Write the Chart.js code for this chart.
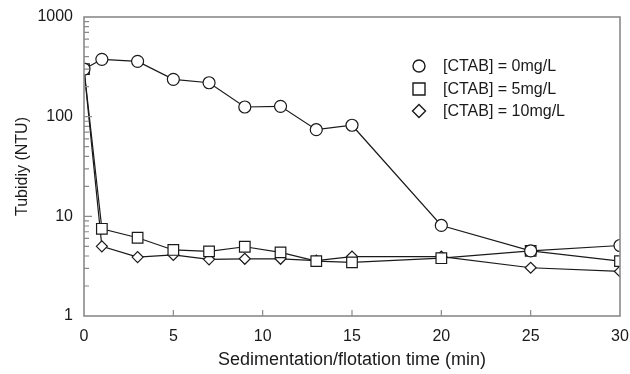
<!DOCTYPE html>
<html>
<head>
<meta charset="utf-8">
<script src="https://cdn.jsdelivr.net/npm/chart.js@4/dist/chart.umd.min.js"></script>
<style>
  html, body { margin: 0; padding: 0; background: #fff; }
  #wrap { width: 630px; height: 374px; }
</style>
</head>
<body>
<div id="wrap"><canvas id="turb" width="630" height="374"></canvas></div>
<script>
const times = [0, 1, 3, 5, 7, 9, 11, 13, 15, 20, 25, 30];
const ctab0 = [300, 376, 359, 237, 219, 125, 127, 74, 82, 8.1, 4.5, 5.1];
const ctab5 = [300, 7.5, 6.1, 4.6, 4.45, 4.95, 4.35, 3.55, 3.45, 3.8, 4.5, 3.55];
const ctab10 = [300, 5.0, 3.9, 4.1, 3.7, 3.75, 3.75, 3.6, 3.95, 3.95, 3.05, 2.8];
const seriesNames = ['[CTAB] = 0mg/L', '[CTAB] = 5mg/L', '[CTAB] = 10mg/L'];
const yMajor = [1, 10, 100, 1000];
const xTicks = [0, 5, 10, 15, 20, 25, 30];

const FONT = '"Liberation Sans", Arial, Helvetica, sans-serif';
const FRAME = '#8a8a8a';
const INK = '#1a1a1a';

function pts(ys) {
  return times.map((t, i) => ({ x: t, y: ys[i] }));
}

function series(label, ys, style, radius) {
  return {
    label,
    data: pts(ys),
    borderColor: INK,
    borderWidth: 1.2,
    pointStyle: style,
    pointRadius: radius,
    pointBorderWidth: 1.2,
    pointBorderColor: INK,
    pointBackgroundColor: '#fff',
    tension: 0
  };
}

// frame, inward tick marks and the in-plot key
const decor = {
  id: 'decor',
  afterDraw(chart) {
    const ctx = chart.ctx;
    const a = chart.chartArea;
    const xs = chart.scales.x, ys = chart.scales.y;
    ctx.save();
    ctx.strokeStyle = FRAME;
    ctx.lineWidth = 1.6;
    ctx.strokeRect(a.left, a.top, a.right - a.left, a.bottom - a.top);

    ctx.lineWidth = 1.2;
    ctx.beginPath();
    for (let d = 1; d < 1000; d *= 10) {
      for (let m = 1; m <= 9; m++) {
        const v = d * m;
        if (v === 1) continue;
        const py = ys.getPixelForValue(v);
        const len = m === 1 ? 8 : 5;
        ctx.moveTo(a.left, py);
        ctx.lineTo(a.left + len, py);
      }
    }
    xTicks.forEach(t => {
      if (t === xs.min || t === xs.max) return;
      const px = xs.getPixelForValue(t);
      ctx.moveTo(px, a.bottom);
      ctx.lineTo(px, a.bottom - 6);
    });
    ctx.stroke();

    // key
    const kx = 419, rows = [66, 89, 111];
    ctx.strokeStyle = INK;
    ctx.lineWidth = 1.4;
    ctx.fillStyle = INK;
    ctx.font = '16px ' + FONT;
    ctx.textBaseline = 'middle';
    ctx.textAlign = 'left';
    chart.data.datasets.forEach((ds, i) => {
      const y = rows[i];
      ctx.beginPath();
      if (ds.pointStyle === 'circle') {
        ctx.arc(kx, y, 6, 0, Math.PI * 2);
      } else if (ds.pointStyle === 'rect') {
        ctx.rect(kx - 6, y - 6, 12, 12);
      } else {
        ctx.moveTo(kx, y - 6.5);
        ctx.lineTo(kx + 6.5, y);
        ctx.lineTo(kx, y + 6.5);
        ctx.lineTo(kx - 6.5, y);
        ctx.closePath();
      }
      ctx.stroke();
      ctx.fillText(ds.label, 443, y + 1);
    });
    ctx.restore();
  }
};

new Chart(document.getElementById('turb'), {
  type: 'line',
  data: {
    datasets: [
      series(seriesNames[0], ctab0, 'circle', 6),
      series(seriesNames[1], ctab5, 'rect', 7.5),
      series(seriesNames[2], ctab10, 'rectRot', 5.5)
    ]
  },
  options: {
    responsive: false,
    animation: false,
    devicePixelRatio: 1,
    layout: { padding: { top: 17, right: 10, left: 0, bottom: 0 } },
    plugins: { legend: { display: false }, tooltip: { enabled: false } },
    scales: {
      x: {
        type: 'linear',
        min: 0,
        max: 30,
        afterBuildTicks: s => { s.ticks = xTicks.map(v => ({ value: v })); },
        afterFit: s => { s.height = 58; s.paddingLeft = 0; s.paddingRight = 0; },
        grid: { display: false, drawTicks: false },
        border: { display: false },
        ticks: { color: INK, font: { family: FONT, size: 16 }, padding: 11, maxRotation: 0 },
        title: {
          display: true,
          text: 'Sedimentation/flotation time (min)',
          color: INK,
          font: { family: FONT, size: 18 },
          padding: { top: 0, bottom: 3 }
        }
      },
      y: {
        type: 'logarithmic',
        min: 1,
        max: 1000,
        afterBuildTicks: s => { s.ticks = yMajor.map(v => ({ value: v })); },
        afterFit: s => { s.width = 84; s.paddingTop = 0; s.paddingBottom = 0; },
        grid: { display: false, drawTicks: false },
        border: { display: false },
        ticks: {
          color: INK,
          font: { family: FONT, size: 16 },
          padding: 11,
          autoSkip: false,
          callback: v => String(v)
        },
        title: {
          display: true,
          text: 'Tubidiy (NTU)',
          color: INK,
          font: { family: FONT, size: 16 },
          padding: { top: 13, bottom: 0 }
        }
      }
    }
  },
  plugins: [decor]
});
</script>
</body>
</html>
